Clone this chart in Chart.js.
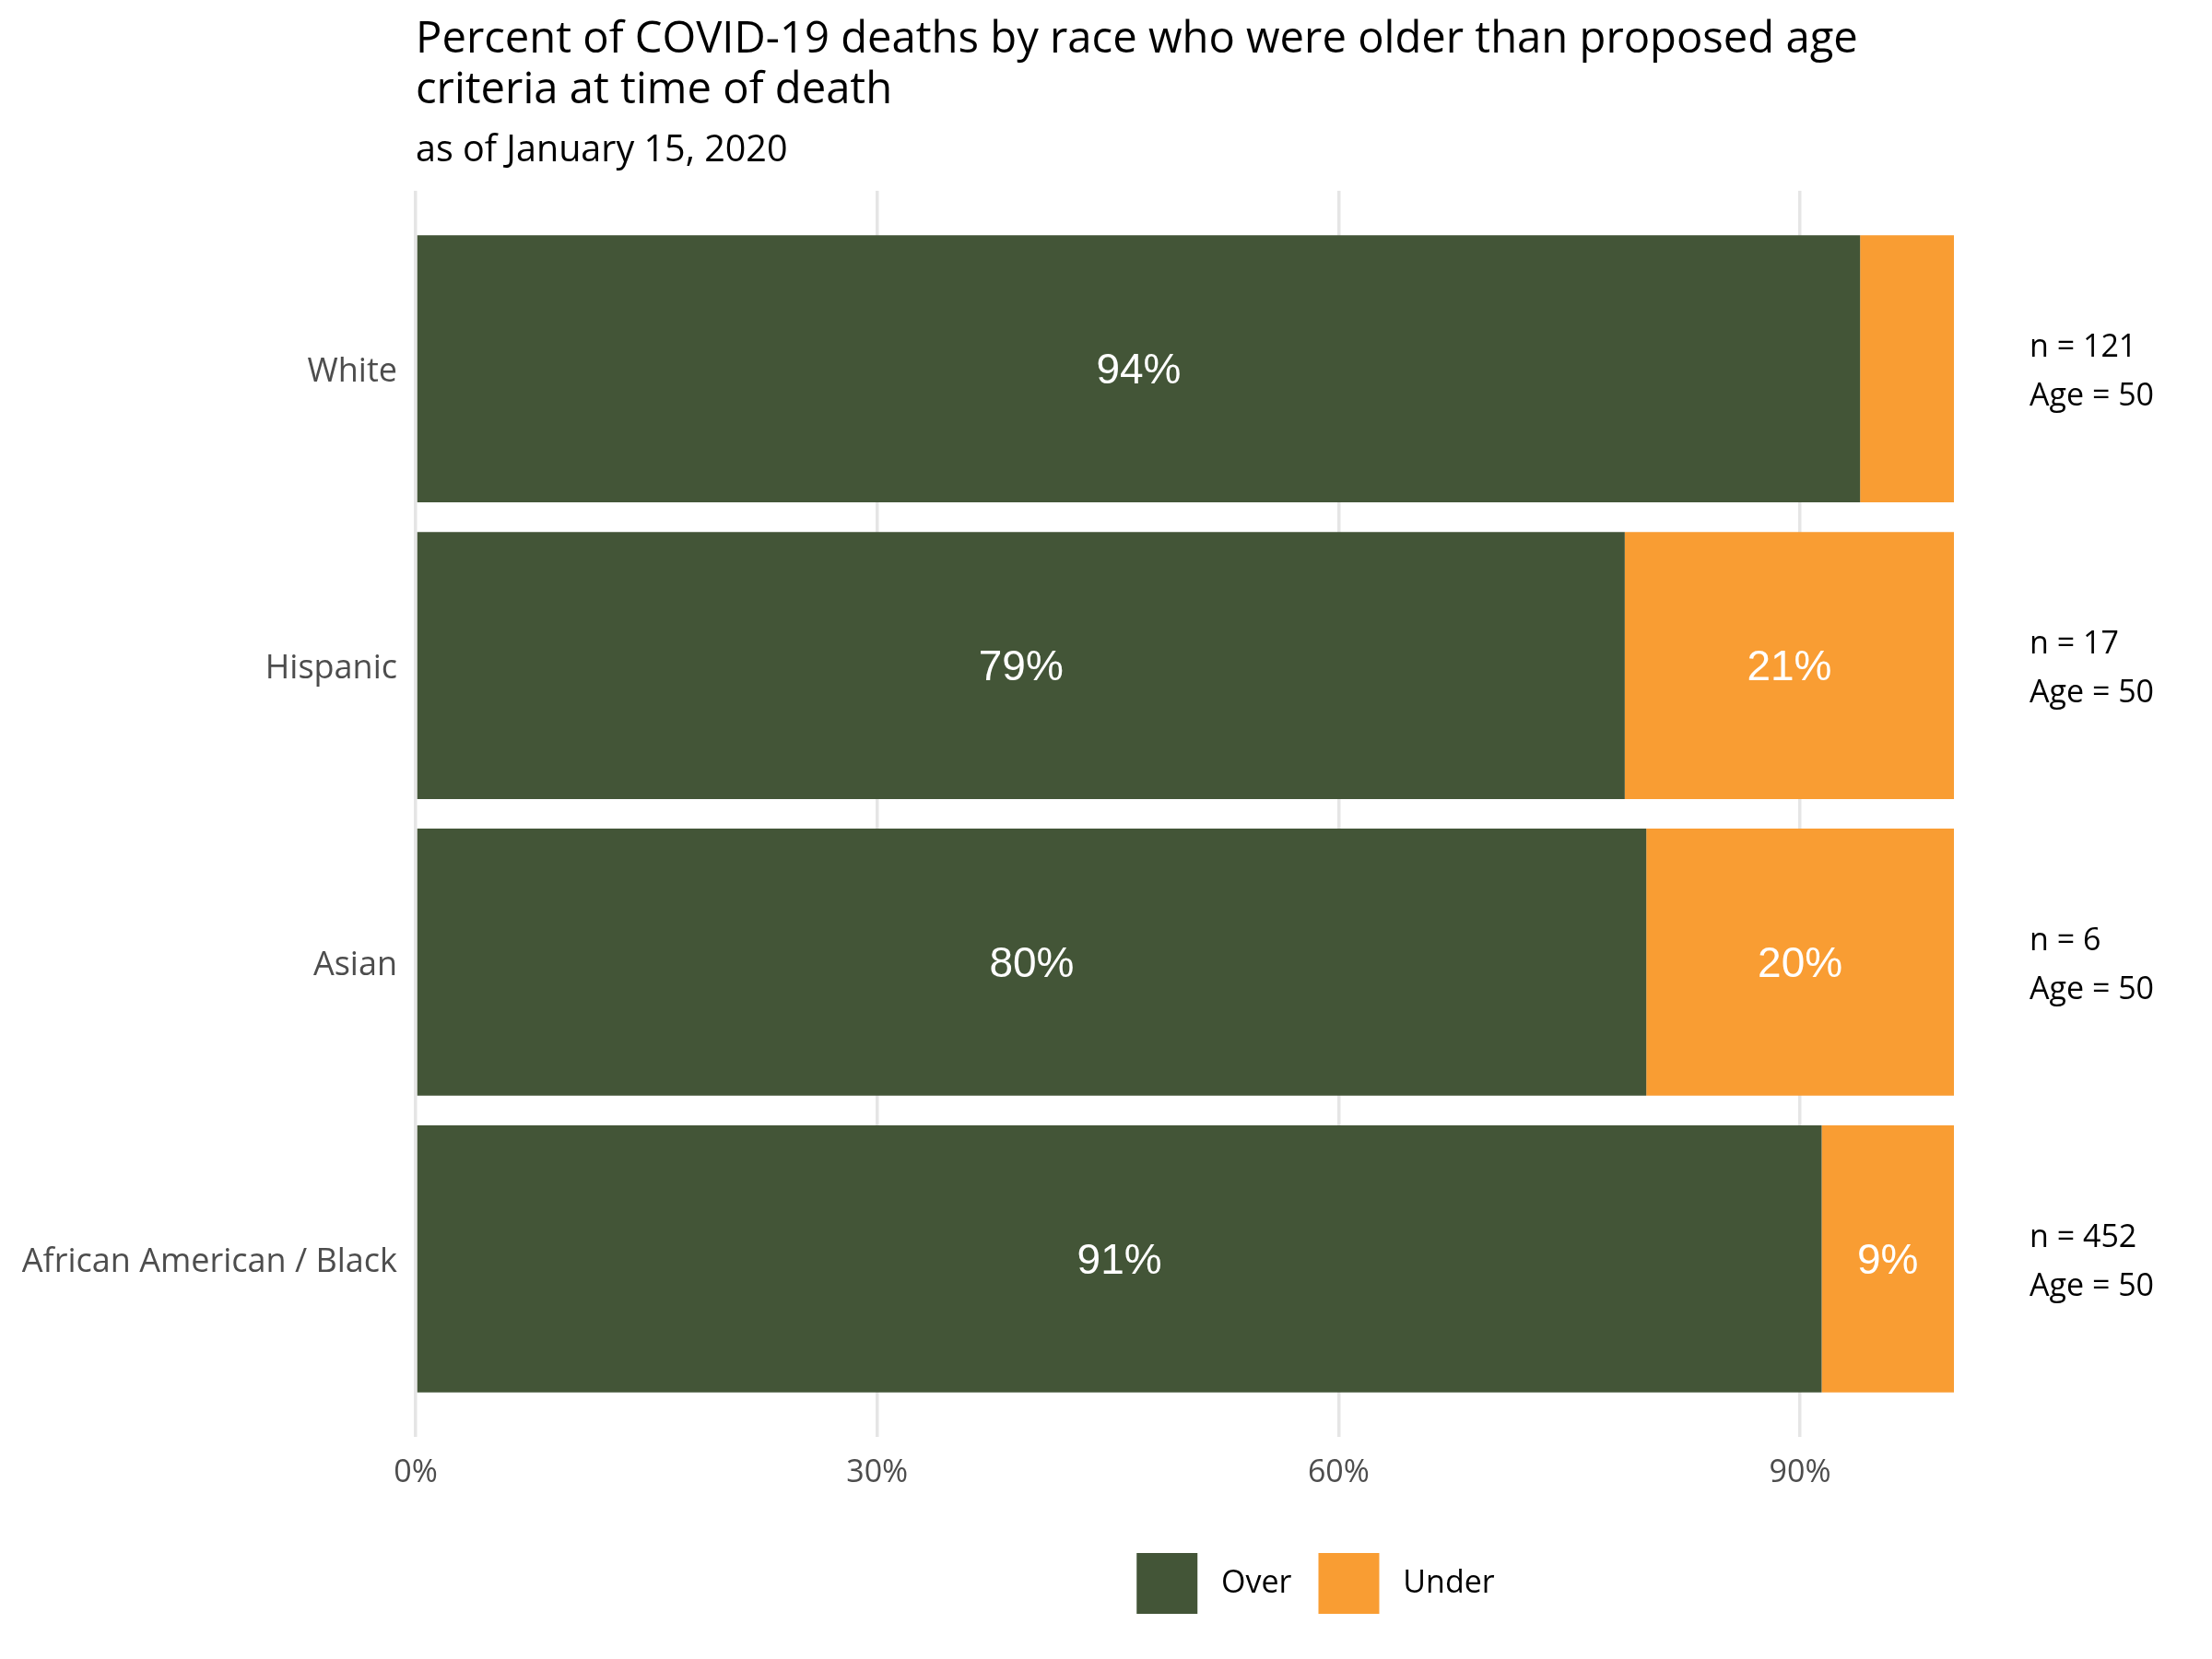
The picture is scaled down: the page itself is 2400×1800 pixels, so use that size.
<!DOCTYPE html>
<html>
<head>
<meta charset="utf-8">
<script src="https://cdn.jsdelivr.net/npm/chart.js@4.4.0/dist/chart.umd.min.js"></script>
<style>
html, body { margin: 0; padding: 0; background: #fff; }
</style>
</head>
<body>
<canvas id="chart" width="2400" height="1800"></canvas>
<script>
var categories = ['White', 'Hispanic', 'Asian', 'African American / Black'];
var overValues = [93.9, 78.6, 80.0, 91.4];
var underValues = [6.1, 21.4, 20.0, 8.6];
var overLabels = ['94%', '79%', '80%', '91%'];
var underLabels = ['', '21%', '20%', '9%'];
var countLabels = ['n = 121', 'n = 17', 'n = 6', 'n = 452'];
var ageLabels = ['Age = 50', 'Age = 50', 'Age = 50', 'Age = 50'];
var xTicks = [0, 30, 60, 90];
var seriesNames = ['Over', 'Under'];

var font = '"Open Sans", "Noto Sans", sans-serif';

function points(values) {
	return values.map(function (v, i) { return {x: v, y: i}; });
}

// white percentage text in the middle of each segment
var barLabels = {
	id: 'barLabels',
	afterDatasetsDraw: function (chart) {
		var ctx = chart.ctx;
		var texts = [overLabels, underLabels];
		ctx.save();
		ctx.font = '46px "Liberation Sans", Arial, sans-serif';
		ctx.fillStyle = '#ffffff';
		ctx.textAlign = 'center';
		ctx.textBaseline = 'middle';
		chart.data.datasets.forEach(function (ds, d) {
			chart.getDatasetMeta(d).data.forEach(function (bar, i) {
				if (texts[d][i]) {
					ctx.fillText(texts[d][i], (bar.x + bar.base) / 2, bar.y + 3);
				}
			});
		});
		ctx.restore();
	}
};

// n / age notes right of the panel
var sideNotes = {
	id: 'sideNotes',
	afterDraw: function (chart) {
		var ctx = chart.ctx;
		var y = chart.scales.y;
		var x = chart.chartArea.right + 82;
		ctx.save();
		ctx.font = '34px ' + font;
		ctx.fillStyle = '#000000';
		ctx.textAlign = 'left';
		ctx.textBaseline = 'middle';
		categories.forEach(function (c, i) {
			var py = y.getPixelForValue(i);
			ctx.fillText(countLabels[i], x, py - 23);
			ctx.fillText(ageLabels[i], x, py + 30);
		});
		ctx.restore();
	}
};

// legend sits centred over panel + right margin
var legendShift = {
	id: 'legendShift',
	afterLayout: function (chart) {
		chart.legend.left += 142;
		chart.legend.right += 142;
	}
};

var ctx = document.getElementById('chart').getContext('2d');
new Chart(ctx, {
	type: 'bar',
	data: {
		datasets: [{
			label: seriesNames[0],
			data: points(overValues),
			backgroundColor: '#435537',
			borderWidth: 0
		}, {
			label: seriesNames[1],
			data: points(underValues),
			backgroundColor: '#f99d33',
			borderWidth: 0
		}]
	},
	options: {
		responsive: false,
		animation: false,
		devicePixelRatio: 1,
		indexAxis: 'y',
		categoryPercentage: 0.9,
		barPercentage: 1,
		layout: {
			padding: {top: 0, left: 0, right: 280, bottom: 39}
		},
		scales: {
			x: {
				type: 'linear',
				stacked: true,
				min: 0,
				max: 100,
				afterBuildTicks: function (axis) {
					axis.ticks = xTicks.map(function (v) { return {value: v}; });
				},
				afterFit: function (s) { s.height = 97; },
				grid: {color: '#e5e5e5', lineWidth: 3.5, drawTicks: false},
				border: {display: false},
				ticks: {
					padding: 19,
					color: '#4d4d4d',
					autoSkip: false,
					maxRotation: 0,
					font: {family: font, size: 34},
					callback: function (v) { return v + '%'; }
				}
			},
			y: {
				type: 'linear',
				stacked: true,
				reverse: true,
				offset: false,
				min: -0.6,
				max: 3.6,
				afterBuildTicks: function (axis) {
					axis.ticks = categories.map(function (c, i) { return {value: i}; });
				},
				afterFit: function (s) { s.width = 451; },
				grid: {display: false},
				border: {display: false},
				ticks: {
					padding: 12,
					labelOffset: 4,
					color: '#4d4d4d',
					autoSkip: false,
					font: {family: font, size: 36},
					callback: function (v) { return categories[v]; }
				}
			}
		},
		plugins: {
			title: {
				display: true,
				align: 'start',
				fullSize: false,
				text: ['Percent of COVID-19 deaths by race who were older than proposed age', 'criteria at time of death'],
				color: '#000000',
				font: {family: font, size: 47.2, weight: 'normal', lineHeight: 55 / 47.2},
				padding: {top: 16, bottom: 15}
			},
			subtitle: {
				display: true,
				align: 'start',
				fullSize: false,
				text: 'as of January 15, 2020',
				color: '#000000',
				font: {family: font, size: 39.5, weight: 'normal', lineHeight: 46 / 39.5},
				padding: {top: 0, bottom: 20}
			},
			legend: {
				position: 'bottom',
				fullSize: false,
				align: 'center',
				labels: {
					boxWidth: 66,
					boxHeight: 66,
					padding: 29,
					color: '#000000',
					font: {family: font, size: 34},
					generateLabels: function (chart) {
						return Chart.defaults.plugins.legend.labels.generateLabels(chart).map(function (l) {
							l.text = ' ' + l.text;
							return l;
						});
					}
				}
			},
			tooltip: {enabled: false}
		}
	},
	plugins: [barLabels, sideNotes, legendShift]
});
</script>
</body>
</html>
